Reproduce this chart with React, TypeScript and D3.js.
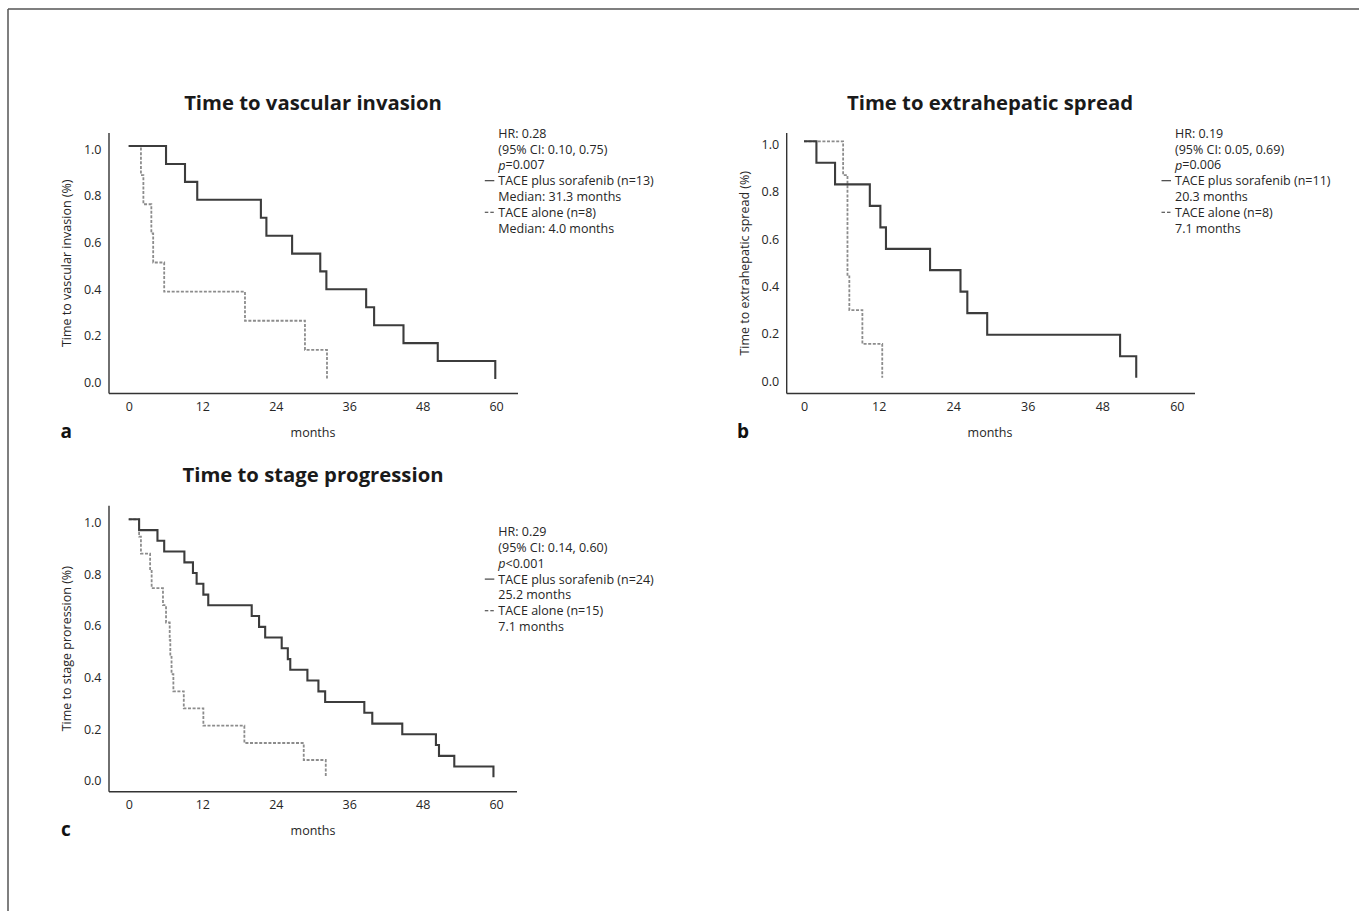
import React from "react";
import * as d3 from "d3";

// x axis ticks (months) and y axis ticks (proportion)
const monthTicks = [0, 12, 24, 36, 48, 60];
const propTicks = [0, 0.2, 0.4, 0.6, 0.8, 1.0];

// panel a: time to vascular invasion
const aSoraTimes = [6.1, 9.2, 11.2, 21.6, 22.5, 26.7, 31.3, 32.3, 38.8, 40.1, 44.9, 50.5, 59.9];
const aSoraSurv = [0.923, 0.846, 0.769, 0.692, 0.615, 0.538, 0.462, 0.385, 0.308, 0.231, 0.154, 0.077, 0];
const aAloneTimes = [2.0, 2.4, 3.7, 4.0, 5.8, 19.0, 28.8, 32.4];
const aAloneSurv = [0.875, 0.75, 0.625, 0.5, 0.375, 0.25, 0.125, 0];

// panel b: time to extrahepatic spread
const bSoraTimes = [2.0, 5.0, 10.6, 12.3, 13.2, 20.3, 25.2, 26.3, 29.5, 50.9, 53.5];
const bSoraSurv = [0.909, 0.818, 0.727, 0.636, 0.545, 0.455, 0.364, 0.273, 0.182, 0.091, 0];
const bAloneTimes = [6.3, 7.0, 7.0, 7.0, 7.3, 9.4, 12.6];
const bAloneSurv = [0.857, 0.714, 0.571, 0.429, 0.286, 0.143, 0];

// panel c: time to stage progression
const cSoraTimes = [1.7, 4.7, 5.8, 9.1, 10.5, 11.1, 12.2, 13.0, 20.1, 21.3, 22.3, 25.0, 26.0, 26.4, 29.2, 31.0, 32.1, 38.5, 39.8, 44.7, 50.2, 50.7, 53.2, 59.6];
const cSoraSurv = [0.958, 0.917, 0.875, 0.833, 0.792, 0.75, 0.708, 0.667, 0.625, 0.583, 0.542, 0.5, 0.458, 0.417, 0.375, 0.333, 0.292, 0.25, 0.208, 0.167, 0.125, 0.083, 0.042, 0];
const cAloneTimes = [1.7, 2.0, 3.5, 3.75, 5.6, 6.1, 6.7, 6.8, 7.0, 7.3, 9.0, 12.2, 18.9, 28.6, 32.2];
const cAloneSurv = [0.933, 0.867, 0.8, 0.733, 0.667, 0.6, 0.533, 0.467, 0.4, 0.333, 0.267, 0.2, 0.133, 0.067, 0];

const aLegend = ["HR: 0.28", "(95% CI: 0.10, 0.75)", "=0.007", "TACE plus sorafenib (n=13)", "Median: 31.3 months", "TACE alone (n=8)", "Median: 4.0 months"];
const bLegend = ["HR: 0.19", "(95% CI: 0.05, 0.69)", "=0.006", "TACE plus sorafenib (n=11)", "20.3 months", "TACE alone (n=8)", "7.1 months"];
const cLegend = ["HR: 0.29", "(95% CI: 0.14, 0.60)", "<0.001", "TACE plus sorafenib (n=24)", "25.2 months", "TACE alone (n=15)", "7.1 months"];

const FONT = "'Open Sans', 'Noto Sans', sans-serif";
const TXT = "#262626";
const FS = 12.5;

function kmPoints(times, surv) {
  const pts = [[0, 1]];
  times.forEach((t, i) => pts.push([t, surv[i]]));
  return pts;
}

function Panel(props) {
  const { p } = props;
  const x = d3.scaleLinear().domain([0, 60]).range([p.x0, p.x60]);
  const y = d3.scaleLinear().domain([0, 1]).range([p.y0, p.y1]);
  const line = d3.line().x(d => x(d[0])).y(d => y(d[1])).curve(d3.curveStepAfter);
  const fmt = d3.format(".1f");
  const midY = (p.axisTop + p.axisBottom) / 2;
  const lh = 15.8;

  return (
    <g>
      <text x={p.titleX} y={p.axisTop - 23.5} textAnchor="middle" fontSize={20.3} fontWeight="bold" fill="#1a1a1a">{p.title}</text>
      <line x1={p.axisX} x2={p.axisX} y1={p.axisTop} y2={p.axisBottom} stroke="#333" strokeWidth={1.4} />
      <line x1={p.axisX} x2={p.axisRight} y1={p.axisBottom} y2={p.axisBottom} stroke="#333" strokeWidth={1.4} />
      {propTicks.map(t => (
        <text key={t} x={p.axisX - 7.5} y={y(t) + 3.3} textAnchor="end" dominantBaseline="central" fontSize={FS} fill={TXT}>{fmt(t)}</text>
      ))}
      {monthTicks.map(t => (
        <text key={t} x={x(t) + 0.7} y={p.axisBottom + 13} textAnchor="middle" dominantBaseline="central" fontSize={FS} fill={TXT}>{t}</text>
      ))}
      <text x={p.titleX} y={p.axisBottom + 38.5} textAnchor="middle" dominantBaseline="central" fontSize={FS} fill={TXT}>months</text>
      <text x={p.letterX} y={p.axisBottom + 37} dominantBaseline="central" fontSize={19} fontWeight="bold" fill="#111">{p.letter}</text>
      <text transform={`translate(${p.labelX},${midY}) rotate(-90)`} textAnchor="middle" dominantBaseline="central" fontSize={FS} fill={TXT}>{p.ylabel}</text>
      <path d={line(kmPoints(p.aloneT, p.aloneS))} fill="none" stroke="#8c8c8c" strokeWidth={1.8} strokeDasharray="3,1.6" />
      <path d={line(kmPoints(p.soraT, p.soraS))} fill="none" stroke="#3c3c3c" strokeWidth={2.1} />
      {p.legend.map((s, i) => (
        <text key={i} x={p.legendX} y={p.legendY + i * lh} dominantBaseline="central" fontSize={FS} fill={TXT}>
          {i === 2 ? <tspan fontStyle="italic">p</tspan> : null}
          {s}
        </text>
      ))}
      <line x1={p.legendX - 13.5} x2={p.legendX - 4} y1={p.legendY + 3 * lh} y2={p.legendY + 3 * lh} stroke="#333" strokeWidth={1.1} />
      <line x1={p.legendX - 13.5} x2={p.legendX - 4} y1={p.legendY + 5 * lh} y2={p.legendY + 5 * lh} stroke="#333" strokeWidth={1.1} strokeDasharray="3.5,2" />
    </g>
  );
}

const panels = [
  {
    title: "Time to vascular invasion", ylabel: "Time to vascular invasion (%)", letter: "a",
    x0: 128.7, x60: 495.9, y1: 146, y0: 379,
    axisX: 109, axisTop: 133, axisBottom: 393.5, axisRight: 518,
    titleX: 313, legendX: 498.3, legendY: 133.3, labelX: 66.7, letterX: 60.5,
    soraT: aSoraTimes, soraS: aSoraSurv, aloneT: aAloneTimes, aloneS: aAloneSurv, legend: aLegend,
  },
  {
    title: "Time to extrahepatic spread", ylabel: "Time to extrahepatic spread (%)", letter: "b",
    x0: 804, x60: 1176.6, y1: 141.3, y0: 377.7,
    axisX: 786.7, axisTop: 133, axisBottom: 393.5, axisRight: 1195,
    titleX: 990, legendX: 1175, legendY: 133.3, labelX: 744, letterX: 737,
    soraT: bSoraTimes, soraS: bSoraSurv, aloneT: bAloneTimes, aloneS: bAloneSurv, legend: bLegend,
  },
  {
    title: "Time to stage progression", ylabel: "Time to stage proression (%)", letter: "c",
    x0: 128.7, x60: 495.9, y1: 519.3, y0: 777.3,
    axisX: 109, axisTop: 505.7, axisBottom: 791.7, axisRight: 517,
    titleX: 313, legendX: 498.3, legendY: 531.7, labelX: 66.7, letterX: 61,
    soraT: cSoraTimes, soraS: cSoraSurv, aloneT: cAloneTimes, aloneS: cAloneSurv, legend: cLegend,
  },
];

export default function App() {
  return (
    <svg width={1359} height={911} style={{ position: "absolute", left: 0, top: 0, background: "#fff" }} fontFamily={FONT}>
      <rect x={0} y={0} width={1359} height={911} fill="#fff" />
      <line x1={8} x2={1359} y1={9} y2={9} stroke="#555" strokeWidth={1.5} />
      <line x1={8} x2={8} y1={9} y2={911} stroke="#555" strokeWidth={1.5} />
      {panels.map(p => <Panel key={p.letter} p={p} />)}
    </svg>
  );
}
